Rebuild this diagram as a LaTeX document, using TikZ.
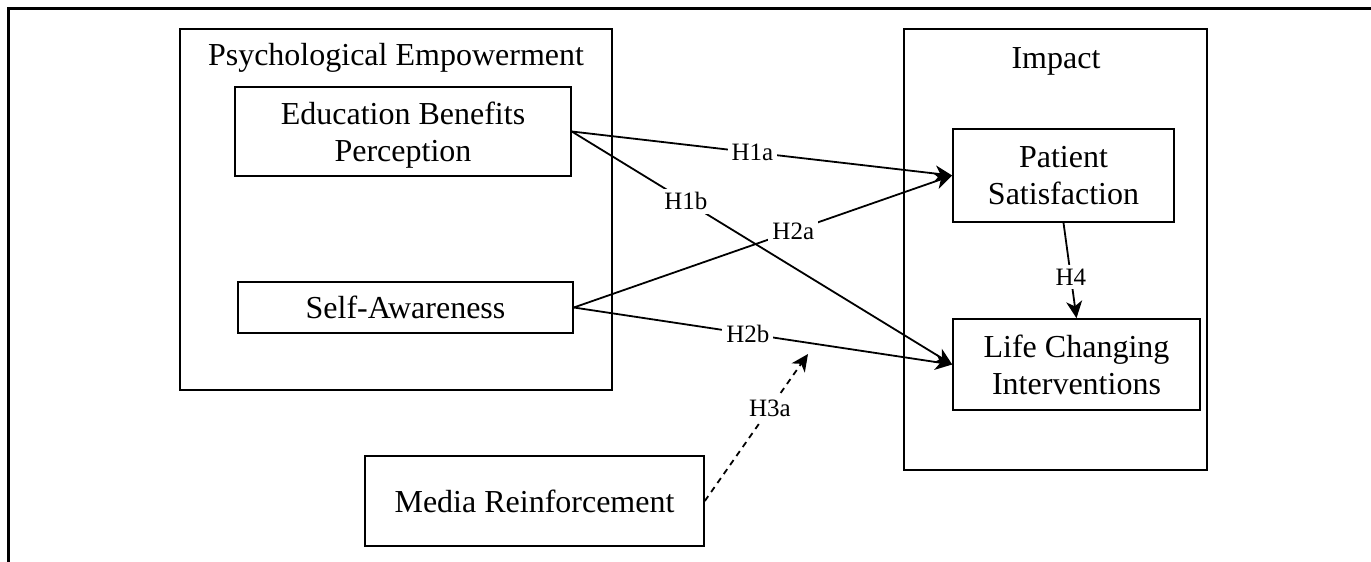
\documentclass[tikz,border=0pt]{standalone}
\usepackage{fontspec}
\setmainfont{Liberation Serif}
\usetikzlibrary{arrows.meta}
\begin{document}
\begin{tikzpicture}[x=1pt,y=-1pt,
  frame/.style={draw, line width=1.6pt, inner sep=0pt},
  box/.style={draw, line width=1.6pt, align=center, inner sep=0pt, text depth=0pt,
    font=\fontsize{32}{37}\selectfont},
  grouptitle/.style={anchor=base, inner sep=0pt, font=\fontsize{32}{37}\selectfont},
  hyp/.style={fill=white, inner sep=4pt, font=\fontsize{25}{29}\selectfont},
  link/.style={line width=1.8pt, -{Stealth[length=17pt,width=16pt,inset=5pt]}},
  dlink/.style={link, dashed, dash pattern=on 6pt off 5pt}]
\useasboundingbox (0,0) rectangle (1371,562);
% outer partial frame
\draw[line width=3pt] (8.5,562) -- (8.5,8.5) -- (1371,8.5);

% group boxes
\node[frame, minimum width=432pt, minimum height=361pt] (pe) at (396,209.5) {};
\node[grouptitle] (pet) at (396,65) {Psychological Empowerment};
\node[frame, minimum width=303pt, minimum height=441pt] (imp) at (1055.5,249.5) {};
\node[grouptitle] (impt) at (1056,68) {Impact};

% construct boxes
\node[box, minimum width=336pt, minimum height=89pt] (ebp) at (403,131.5) {Education Benefits\\Perception};
\node[box, minimum width=335pt, minimum height=51pt] (sa) at (405.5,307.5) {Self-Awareness};
\node[box, minimum width=339pt, minimum height=90pt] (mr) at (534.5,501) {Media Reinforcement};
\node[box, minimum width=221pt, minimum height=93pt] (ps) at (1063.5,175.5) {Patient\\Satisfaction};
\node[box, minimum width=247pt, minimum height=91pt] (lci) at (1076.5,364.5) {Life Changing\\Interventions};

\coordinate (h3end) at (808,354);

% hypotheses
\draw[link] (ebp.east) -- node[hyp, pos=0.475] (h1a) {H1a} (ps.west);
\draw[link] (ebp.east) -- node[hyp, pos=0.30] (h1b) {H1b} (lci.west);
\draw[link] (sa.east) -- node[hyp, pos=0.58] (h2a) {H2a} (ps.west);
\draw[link] (sa.east) -- node[hyp, pos=0.46] (h2b) {H2b} (lci.west);
\draw[dlink] (mr.east) -- node[hyp, pos=0.63] (h3a) {H3a} (h3end);
\draw[link] (ps.south) -- node[hyp, pos=0.57] (h4) {H4} (lci.north);
\end{tikzpicture}
\end{document}
